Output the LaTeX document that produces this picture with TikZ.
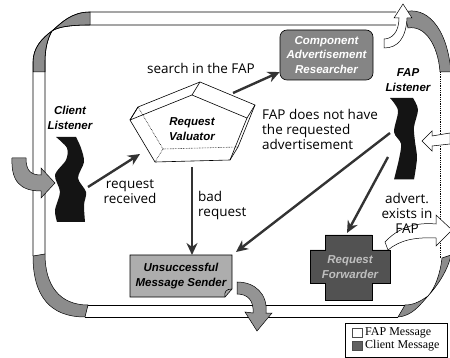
\documentclass[tikz,border=0pt]{standalone}
\usepackage{fontspec}
\setmainfont{Open Sans}
\newfontfamily\boxfont{Liberation Sans}
\newfontfamily\legendfont{Liberation Serif}
\usetikzlibrary{arrows.meta}

\begin{document}
\begin{tikzpicture}[x=1pt,y=-1pt,
  ribbon/.style={draw=black,line width=0.6pt},
  hatchfill/.style={fill=black!45,draw=black,line width=0.5pt},
  clientarrow/.style={fill=black!42,draw=black,line width=0.5pt},
  faparrow/.style={fill=white,draw=black,line width=0.5pt},
  flow/.style={draw=black!80,line width=2.4pt,-{Stealth[length=12pt,width=11pt]}},
  lbl/.style={font=\fontsize{13.5}{15}\selectfont,align=center,inner sep=0pt},
  tag/.style={font=\boxfont\bfseries\itshape\fontsize{11.5}{14.5}\selectfont,align=center,inner sep=0pt},
  squiggle/.style={fill=black!92}
]
\useasboundingbox (0,0) rectangle (450,358);

% ---------- twisted ribbon frame ----------
% top-left twist
\path[hatchfill] (33,72) -- (33,62) .. controls (33,48) and (42,38) .. (52,31)
  .. controls (48,38) and (45,48) .. (45,62) -- (45,72) -- cycle;
\path[hatchfill] (52,31) .. controls (62,22) and (72,12) .. (90,12) -- (90,25)
  .. controls (70,25) and (58,27) .. (52,31) -- cycle;
% bottom-left bend
\path[hatchfill] (33,256) .. controls (33,296) and (50,317) .. (85,317) -- (88,305)
  .. controls (60,305) and (45,286) .. (45,254) -- cycle;
% bottom-right twist
\path[hatchfill] (398,317) .. controls (412,316) and (420,305) .. (428,296)
  .. controls (422,300) and (415,305) .. (405,305) -- cycle;
\path[hatchfill] (428,296) .. controls (438,285) and (448,270) .. (451,255) -- (442,258)
  .. controls (440,275) and (435,288) .. (428,296) -- cycle;
% top-right bend
\path[hatchfill] (404,12) .. controls (425,6) and (447,25) .. (451,72) -- (440,72)
  .. controls (438,45) and (425,25) .. (408,28) -- cycle;

% outer and inner edges
\draw[ribbon] (33,256) -- (33,62) .. controls (33,48) and (42,38) .. (52,31)
  .. controls (62,22) and (72,12) .. (90,12) -- (396,12);
\draw[ribbon] (45,254) -- (45,62) .. controls (45,48) and (48,38) .. (52,31)
  .. controls (58,27) and (70,25) .. (90,25) -- (396,25);
\draw[ribbon] (85,317) -- (398,317);
\draw[ribbon] (88,305) -- (405,305);
\draw[black,line width=0.8pt,densely dotted] (440,72) -- (440,258);

% ---------- message arrows ----------
% client message entering on the left
\path[clientarrow] (12,158) .. controls (11,181) and (20,191) .. (41,191) -- (41,198)
  -- (55,183) -- (41,168) -- (41,175) .. controls (31,175) and (26,171) .. (26,158) -- cycle;
% client message leaving at the bottom
\path[clientarrow] (237,282) .. controls (255,282) and (268,294) .. (266,313) -- (272,313)
  -- (257,331) -- (245,312) -- (253,313) .. controls (254,301) and (248,294) .. (237,294) -- cycle;
% FAP message leaving at the top
\path[faparrow] (384,48) .. controls (398,48) and (406,38) .. (407,18) -- (412,18)
  -- (403,4) -- (394,18) -- (399,18) .. controls (399,32) and (392,39) .. (384,39) -- cycle;
% FAP message entering on the right
\path[faparrow] (450,133) -- (432,136) -- (432,131) -- (422,141) -- (432,151)
  -- (432,146) -- (450,144) -- cycle;
% FAP message leaving on the right
\path[faparrow] (388,250) .. controls (400,240) and (415,237) .. (436,238) -- (436,246)
  -- (452,230) -- (436,215) -- (436,224) .. controls (415,222) and (398,228) .. (385,242) -- cycle;

% ---------- Client Listener ----------
\node[tag] (cl) at (70,118) {Client\\Listener};
\begin{scope}[shift={(55,137)}]
  \path[squiggle] plot[smooth] coordinates {(1,0) (12,11) (11,23) (0,38) (5,55) (0,73) (2,85)}
    -- plot[smooth] coordinates {(30,85) (29,68) (31,55) (23,41) (29,25) (26,11) (21,0)} -- cycle;
\end{scope}
\coordinate (cl-out) at (88,187);

% ---------- FAP Listener ----------
\node[tag] (fl) at (408,80) {FAP\\Listener};
\begin{scope}[shift={(390,98)},yscale=0.97]
  \path[squiggle] plot[smooth] coordinates {(0,0) (8,13) (4,35) (11,47) (9,63) (4,84)}
    -- plot[smooth] coordinates {(24,84) (27,62) (25,45) (24,30) (28,12) (23,0)} -- cycle;
\end{scope}
\coordinate (fl-a) at (390,133);
\coordinate (fl-b) at (388,157);

% ---------- Request Valuator (pentagonal prism) ----------
\path[fill=white,draw=black,line width=0.6pt]
  (130,120) -- (138,107) -- (200,82) -- (255,105) -- (238,147) -- (230,160) -- (155,162) -- cycle;
\draw[line width=0.6pt] (130,120) -- (192,95) -- (247,118) -- (230,160);
\draw[line width=0.6pt] (192,95) -- (200,82) (247,118) -- (255,105) (130,120) -- (138,107);
\draw[line width=0.6pt,densely dotted] (155,162) -- (163,149) -- (238,147) (163,149) -- (138,107);
\node[tag] (rv) at (192,129) {Request\\Valuator};
\coordinate (rv-in) at (140,154);
\coordinate (rv-out) at (233,93);
\coordinate (rv-down) at (192,167);

% ---------- Component Advertisement Researcher ----------
\node[tag,text=white,draw=black,line width=0.6pt,fill=black!48,rounded corners=7pt,
  minimum width=93pt,minimum height=50pt] (car) at (326.5,55)
  {Component\\Advertisement\\Researcher};

% ---------- Unsuccessful Message Sender ----------
\path[fill=black!32,draw=black,line width=0.6pt]
  (130,255) -- (232,255) -- (232,289) -- (225,297) -- (130,297) -- cycle;
\draw[line width=0.6pt] (232,289) .. controls (226,289) and (224,292) .. (225,297);
\node[tag] (ums) at (181,276) {Unsuccessful\\Message Sender};
\coordinate (ums-top) at (192,255);
\coordinate (ums-corner) at (236,252);

% ---------- Request Forwarder ----------
\path[fill=black!68,draw=black,line width=0.6pt]
  (310,250) -- (325,250) -- (325,235) -- (372,235) -- (372,250) -- (390,250) -- (390,283)
  -- (372,283) -- (372,300) -- (325,300) -- (325,283) -- (310,283) -- cycle;
\node[tag,text=black!25] (rf) at (350,267) {Request\\Forwarder};
\coordinate (rf-top) at (347,233);

% ---------- connectors ----------
\draw[flow] (cl-out) -- (rv-in);
\draw[flow] (rv-out) -- (car.200);
\draw[flow] (rv-down) -- (ums-top);
\draw[flow] (fl-a) -- (ums-corner);
\draw[flow] (fl-b) -- (rf-top);

% ---------- labels ----------
\node[lbl] (l-search) at (201,68) {search in the FAP};
\node[lbl] (l-recv) at (130,192) {request\\received};
\node[lbl,anchor=west,align=left] (l-bad) at (198,205) {bad\\request};
\node[lbl,anchor=north west,align=left] (l-nohave) at (262,109)
  {FAP does not have\\the requested\\advertisement};
\node[lbl] (l-exists) at (407,213) {advert.\\exists in\\FAP};

% ---------- legend ----------
\draw[line width=0.5pt] (345,323) rectangle (447,357);
\path[fill=white,draw=black!70,line width=0.5pt] (352,328) rectangle (362,337);
\path[fill=black!62,draw=black!70,line width=0.5pt] (352,341) rectangle (362,350);
\node[anchor=west,inner sep=0pt,font=\legendfont\fontsize{12}{13}\selectfont] (lg-fap) at (365,332.5) {FAP Message};
\node[anchor=west,inner sep=0pt,font=\legendfont\fontsize{12}{13}\selectfont] (lg-cli) at (365,345.5) {Client Message};
\end{tikzpicture}
\end{document}
